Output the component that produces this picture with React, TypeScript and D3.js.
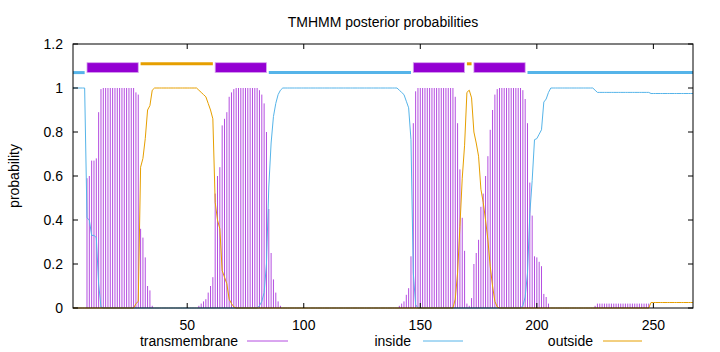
import React from 'react';
import * as d3 from 'd3';

// posterior probabilities per residue (1..267)
const tmProb = [
  0, 0, 0, 0, 0, 0, .59, .60, .67, .67,
  .68, .89, .995, 1, 1, 1, 1, 1, 1, 1,
  1, 1, 1, 1, 1, 1, 1, .98, .97, .36,
  .32, .23, .10, .08, .01, 0, 0, 0, 0, 0,
  0, 0, 0, 0, 0, 0, 0, 0, 0, 0,
  0, 0, 0, 0, .01, .02, .03, .04, .07, .10,
  .14, .52, .60, .64, .83, .86, .89, .96, .98, .995,
  1, 1, 1, 1, 1, 1, 1, 1, 1, 1,
  .99, .97, .93, .80, .45, .25, .13, .07, .03, .01,
  0, 0, 0, 0, 0, 0, 0, 0, 0, 0,
  0, 0, 0, 0, 0, 0, 0, 0, 0, 0,
  0, 0, 0, 0, 0, 0, 0, 0, 0, 0,
  0, 0, 0, 0, 0, 0, 0, 0, 0, 0,
  0, 0, 0, 0, 0, 0, 0, 0, 0, 0,
  .01, .02, .03, .06, .09, .235, .84, .985, 1, 1,
  1, 1, 1, 1, 1, 1, 1, 1, 1, 1,
  1, 1, 1, 1, .96, .84, .63, .41, .26, .02,
  .01, .045, .20, .25, .31, .46, .52, .60, .69, .81,
  .90, .97, .995, 1, 1, 1, 1, 1, 1, 1,
  1, 1, 1, .99, .95, .84, .57, .42, .235, .23,
  .21, .19, .064, .05, .02, 0, 0, 0, 0, 0,
  0, 0, 0, 0, 0, 0, 0, 0, 0, 0,
  0, 0, 0, 0, .01, .02, .02, .02, .02, .02,
  .02, .02, .02, .02, .02, .02, .02, .02, .02, .02,
  .02, .02, .02, .02, .02, .02, .02, .02, 0, 0,
  0, 0, 0, 0, 0, 0, 0, 0, 0, 0,
  0, 0, 0, 0, 0, 0, 0,
];

const insideProb = [
  1, 1, 1, 1, 1, 1, .41, .40, .33, .33,
  .32, .11, .005, 0, 0, 0, 0, 0, 0, 0,
  0, 0, 0, 0, 0, 0, 0, 0, 0, 0,
  0, 0, 0, 0, 0, 0, 0, 0, 0, 0,
  0, 0, 0, 0, 0, 0, 0, 0, 0, 0,
  0, 0, 0, 0, 0, 0, 0, 0, 0, 0,
  0, 0, 0, 0, 0, 0, 0, 0, 0, 0,
  0, 0, 0, 0, 0, 0, 0, 0, 0, 0,
  .01, .03, .07, .20, .55, .75, .87, .93, .97, .99,
  1, 1, 1, 1, 1, 1, 1, 1, 1, 1,
  1, 1, 1, 1, 1, 1, 1, 1, 1, 1,
  1, 1, 1, 1, 1, 1, 1, 1, 1, 1,
  1, 1, 1, 1, 1, 1, 1, 1, 1, 1,
  1, 1, 1, 1, 1, 1, 1, 1, 1, 1,
  .99, .98, .97, .94, .91, .765, .16, .015, 0, 0,
  0, 0, 0, 0, 0, 0, 0, 0, 0, 0,
  0, 0, 0, 0, 0, 0, 0, 0, 0, 0,
  0, 0, 0, 0, 0, 0, 0, 0, 0, 0,
  0, 0, 0, 0, 0, 0, 0, 0, 0, 0,
  0, 0, 0, .01, .05, .16, .43, .58, .765, .77,
  .79, .81, .936, .95, .98, 1, 1, 1, 1, 1,
  1, 1, 1, 1, 1, 1, 1, 1, 1, 1,
  1, 1, 1, 1, .99, .98, .98, .98, .98, .98,
  .98, .98, .98, .98, .98, .98, .98, .98, .98, .98,
  .98, .98, .98, .98, .98, .98, .98, .98, .975, .975,
  .975, .975, .975, .975, .975, .975, .975, .975, .975, .975,
  .975, .975, .975, .975, .975, .975, .975,
];

const outsideProb = [
  0, 0, 0, 0, 0, 0, 0, 0, 0, 0,
  0, 0, 0, 0, 0, 0, 0, 0, 0, 0,
  0, 0, 0, 0, 0, 0, 0, .02, .03, .64,
  .68, .77, .90, .92, .99, 1, 1, 1, 1, 1,
  1, 1, 1, 1, 1, 1, 1, 1, 1, 1,
  1, 1, 1, 1, .99, .98, .97, .96, .93, .90,
  .86, .48, .40, .36, .17, .14, .11, .04, .02, .005,
  0, 0, 0, 0, 0, 0, 0, 0, 0, 0,
  0, 0, 0, 0, 0, 0, 0, 0, 0, 0,
  0, 0, 0, 0, 0, 0, 0, 0, 0, 0,
  0, 0, 0, 0, 0, 0, 0, 0, 0, 0,
  0, 0, 0, 0, 0, 0, 0, 0, 0, 0,
  0, 0, 0, 0, 0, 0, 0, 0, 0, 0,
  0, 0, 0, 0, 0, 0, 0, 0, 0, 0,
  0, 0, 0, 0, 0, 0, 0, 0, 0, 0,
  0, 0, 0, 0, 0, 0, 0, 0, 0, 0,
  0, 0, 0, 0, .04, .16, .37, .59, .74, .98,
  .99, .955, .80, .75, .69, .54, .48, .40, .31, .19,
  .10, .03, .005, 0, 0, 0, 0, 0, 0, 0,
  0, 0, 0, 0, 0, 0, 0, 0, 0, 0,
  0, 0, 0, 0, 0, 0, 0, 0, 0, 0,
  0, 0, 0, 0, 0, 0, 0, 0, 0, 0,
  0, 0, 0, 0, 0, 0, 0, 0, 0, 0,
  0, 0, 0, 0, 0, 0, 0, 0, 0, 0,
  0, 0, 0, 0, 0, 0, 0, 0, .025, .025,
  .025, .025, .025, .025, .025, .025, .025, .025, .025, .025,
  .025, .025, .025, .025, .025, .025, .025,
];

// predicted topology (top track)
const regionTypes = ['inside', 'TMhelix', 'outside', 'TMhelix', 'inside', 'TMhelix', 'outside', 'TMhelix', 'inside'];
const regionStarts = [1, 7, 30, 62, 85, 147, 170, 173, 196];
const regionEnds = [6, 29, 61, 84, 146, 169, 172, 195, 267];

const xTicks = [50, 100, 150, 200, 250];
const yTicks = [0, 0.2, 0.4, 0.6, 0.8, 1, 1.2];
const yTickLabels = ['0', '0.2', '0.4', '0.6', '0.8', '1', '1.2'];

const seqLength = 267;
const purple = '#9400d3';
const blue = '#56b4e9';
const orange = '#e69f00';
const font = '"Liberation Sans", Arial, sans-serif';

export default function App() {
  const W = 720, H = 352;
  const left = 73, right = 693, top = 44, bottom = 308;

  const x = d3.scaleLinear().domain([1, seqLength]).range([left, right]);
  const y = d3.scaleLinear().domain([0, 1.2]).range([bottom, top]);

  const line = d3.line<number>()
    .x((d, i) => x(i + 1))
    .y(d => y(d));

  return (
    <svg width={W} height={H} style={{ position: 'absolute', left: 0, top: 0, background: '#fff' }}
      fontFamily={font} fontSize={14}>
      <rect x={0} y={0} width={W} height={H} fill="#fff" />
      <text x={(left + right) / 2} y={27} textAnchor="middle" fontSize={14}>TMHMM posterior probabilities</text>

      {/* transmembrane impulses */}
      <g stroke={purple} strokeOpacity={0.7} strokeWidth={1}>
        {tmProb.map((v, i) => v > 0 ? (
          <line key={i} x1={x(i + 1)} x2={x(i + 1)} y1={y(0)} y2={y(v)} />
        ) : null)}
      </g>
      <path d={line(insideProb) || ''} fill="none" stroke={blue} strokeWidth={1} />
      <path d={line(outsideProb) || ''} fill="none" stroke={orange} strokeWidth={1} />

      {/* topology track */}
      {regionTypes.map((t, i) => {
        const x0 = x(regionStarts[i]), x1 = x(regionEnds[i]);
        if (t === 'TMhelix') {
          return <rect key={i} x={x0} y={y(1.115)} width={x1 - x0} height={y(1.07) - y(1.115)}
            fill={purple} stroke="#d9a6ef" strokeWidth={0.8} />;
        }
        const yy = t === 'inside' ? y(1.07) : y(1.11);
        return <line key={i} x1={x0} x2={x1} y1={yy} y2={yy} stroke={t === 'inside' ? blue : orange} strokeWidth={3} />;
      })}

      {/* border and ticks */}
      <rect x={left} y={top} width={right - left} height={bottom - top} fill="none" stroke="#000" strokeWidth={1} />
      {yTicks.map((t, i) => (
        <g key={'y' + i}>
          <line x1={left} x2={left + 5} y1={y(t)} y2={y(t)} stroke="#000" />
          <line x1={right} x2={right - 5} y1={y(t)} y2={y(t)} stroke="#000" />
          <text x={63} y={y(t) + 5} textAnchor="end">{yTickLabels[i]}</text>
        </g>
      ))}
      {xTicks.map((t, i) => (
        <g key={'x' + i}>
          <line x1={x(t)} x2={x(t)} y1={bottom} y2={bottom - 5} stroke="#000" />
          <line x1={x(t)} x2={x(t)} y1={top} y2={top + 5} stroke="#000" />
          <text x={x(t)} y={330} textAnchor="middle">{t}</text>
        </g>
      ))}
      <text transform={`translate(19,${(top + bottom) / 2}) rotate(-90)`} textAnchor="middle">probability</text>

      {/* legend */}
      <g>
        <text x={238} y={346} textAnchor="end">transmembrane</text>
        <line x1={247} x2={288} y1={341} y2={341} stroke={purple} strokeOpacity={0.7} />
        <text x={411} y={346} textAnchor="end">inside</text>
        <line x1={423} x2={463} y1={341} y2={341} stroke={blue} />
        <text x={593} y={346} textAnchor="end">outside</text>
        <line x1={603} x2={642} y1={341} y2={341} stroke={orange} />
      </g>
    </svg>
  );
}
